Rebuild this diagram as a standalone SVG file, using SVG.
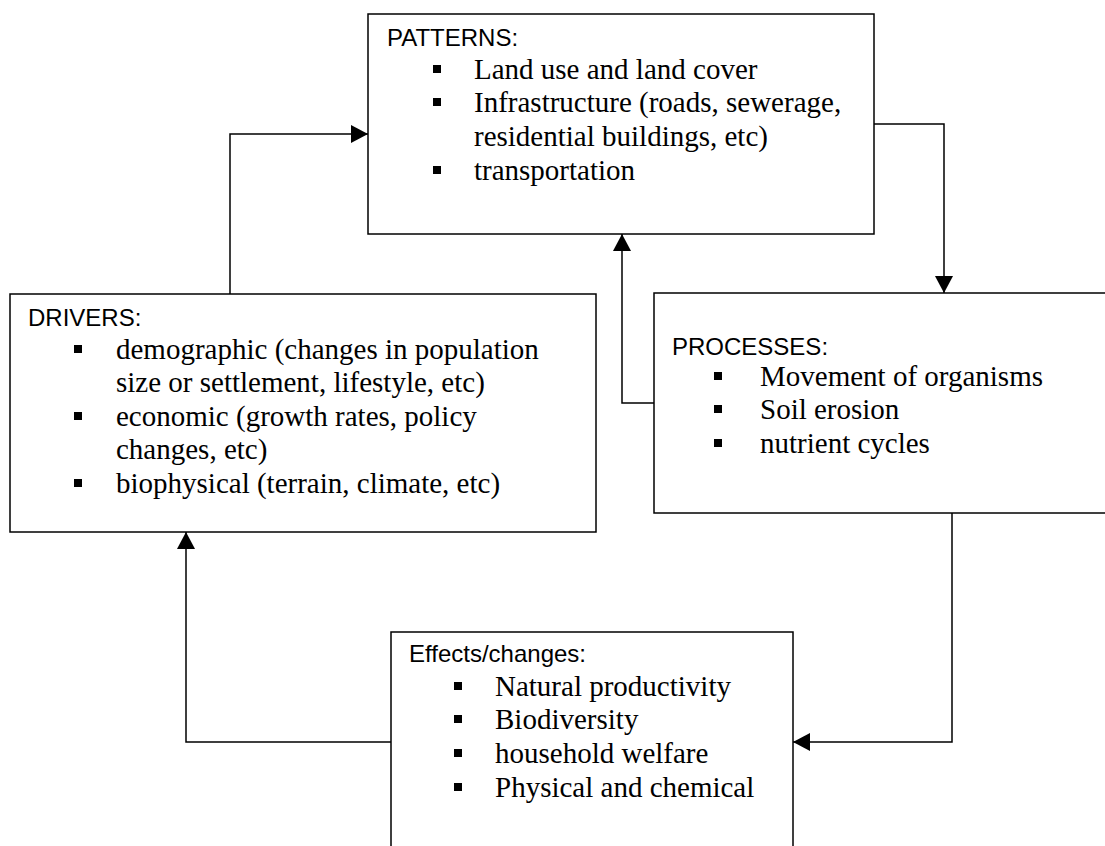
<svg xmlns="http://www.w3.org/2000/svg" width="1105" height="846" viewBox="0 0 1105 846">
  <style>
    .box { fill: #ffffff; stroke: #000000; stroke-width: 1.5; }
    .head { font-family: "Liberation Sans", Arial, sans-serif; font-size: 24px; fill: #000000; }
    .item { font-family: "Liberation Serif", "Times New Roman", serif; font-size: 29px; fill: #000000; }
    .bullet { fill: #000000; }
    .link { fill: none; stroke: #000000; stroke-width: 1.5; marker-end: url(#arrow); }
  </style>
  <defs>
    <marker id="arrow" markerUnits="userSpaceOnUse" markerWidth="18" markerHeight="18" refX="17" refY="9" orient="auto">
      <path d="M0,0 L17,9 L0,18 Z" fill="#000000"/>
    </marker>
  </defs>
  <rect width="1105" height="846" fill="#ffffff"/>

  <!-- PATTERNS -->
  <g id="patterns">
    <rect class="box" x="368" y="14" width="506" height="220"/>
    <text class="head" x="387" y="46">PATTERNS:</text>
    <rect class="bullet" x="433" y="65" width="8" height="8"/>
    <text class="item" x="474" y="79">Land use and land cover</text>
    <rect class="bullet" x="433" y="98" width="8" height="8"/>
    <text class="item" x="474" y="112">Infrastructure (roads, sewerage,</text>
    <text class="item" x="474" y="146">residential buildings, etc)</text>
    <rect class="bullet" x="433" y="166" width="8" height="8"/>
    <text class="item" x="474" y="180">transportation</text>
  </g>

  <!-- DRIVERS -->
  <g id="drivers">
    <rect class="box" x="10" y="294" width="586" height="238"/>
    <text class="head" x="28" y="326">DRIVERS:</text>
    <rect class="bullet" x="74" y="345" width="8" height="8"/>
    <text class="item" x="116" y="359">demographic (changes in population</text>
    <text class="item" x="116" y="392">size or settlement, lifestyle, etc)</text>
    <rect class="bullet" x="74" y="412" width="8" height="8"/>
    <text class="item" x="116" y="426">economic (growth rates, policy</text>
    <text class="item" x="116" y="459">changes, etc)</text>
    <rect class="bullet" x="74" y="479" width="8" height="8"/>
    <text class="item" x="116" y="493">biophysical (terrain, climate, etc)</text>
  </g>

  <!-- PROCESSES (runs off the right edge) -->
  <g id="processes">
    <rect class="box" x="654" y="293" width="470" height="220"/>
    <text class="head" x="672" y="355">PROCESSES:</text>
    <rect class="bullet" x="714" y="372" width="8" height="8"/>
    <text class="item" x="760" y="386">Movement of organisms</text>
    <rect class="bullet" x="714" y="405" width="8" height="8"/>
    <text class="item" x="760" y="419">Soil erosion</text>
    <rect class="bullet" x="714" y="439" width="8" height="8"/>
    <text class="item" x="760" y="453">nutrient cycles</text>
  </g>

  <!-- Effects/changes (runs off the bottom edge) -->
  <g id="effects">
    <rect class="box" x="391" y="632" width="402" height="240"/>
    <text class="head" x="409" y="662">Effects/changes:</text>
    <rect class="bullet" x="454" y="682" width="8" height="8"/>
    <text class="item" x="495" y="696">Natural productivity</text>
    <rect class="bullet" x="454" y="715" width="8" height="8"/>
    <text class="item" x="495" y="729">Biodiversity</text>
    <rect class="bullet" x="454" y="749" width="8" height="8"/>
    <text class="item" x="495" y="763">household welfare</text>
    <rect class="bullet" x="454" y="783" width="8" height="8"/>
    <text class="item" x="495" y="797">Physical and chemical</text>
  </g>

  <!-- connectors -->
  <g id="connectors">
    <path class="link" d="M230,294 V134 H368"/>
    <path class="link" d="M874,124 H944 V293"/>
    <path class="link" d="M654,403 H622 V234"/>
    <path class="link" d="M952,513 V742 H793"/>
    <path class="link" d="M391,742 H186 V532"/>
  </g>
</svg>
